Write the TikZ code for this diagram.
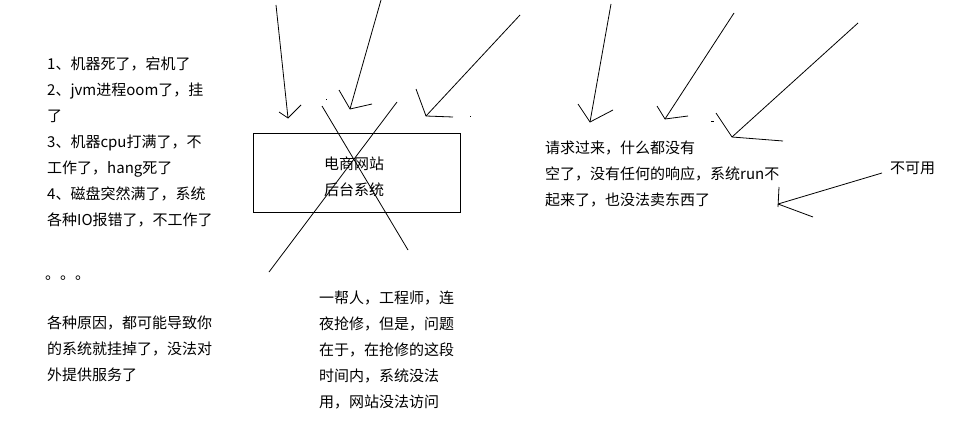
\documentclass[tikz,border=0pt]{standalone}
\usepackage{fontspec}
\setmainfont{Noto Sans CJK SC}
\begin{document}
\begin{tikzpicture}[x=1pt, y=-1pt,
    txt/.style={anchor=base west, inner sep=0pt, align=left,
      font=\fontsize{15}{26}\selectfont},
    pen/.style={line width=0.8pt}]
  \useasboundingbox (0, 0) rectangle (960, 444);
  \node[txt] (causes) at (47, 225) {1、机器死了，宕机了\\2、jvm进程oom了，挂\\了\\3、机器cpu打满了，不\\工作了，hang死了\\4、磁盘突然满了，系统\\各种IO报错了，不工作了};
  \node[txt] (dots) at (45, 279) {。。。};
  \node[txt] (reason) at (47, 380) {各种原因，都可能导致你\\的系统就挂掉了，没法对\\外提供服务了};
  \node[draw, pen, minimum width=207pt, minimum height=79pt, inner sep=0pt] (site) at (356.5, 172.5) {};
  \node[txt, anchor=base, align=center] (sitetxt) at (354, 195) {电商网站\\后台系统};
  \node[txt] (repair) at (319, 407) {一帮人，工程师，连\\夜抢修，但是，问题\\在于，在抢修的这段\\时间内，系统没法\\用，网站没法访问};
  \node[txt] (request) at (545, 205) {请求过来，什么都没有\\空了，没有任何的响应，系统run不\\起来了，也没法卖东西了};
  \node[txt] (down) at (890, 173) {不可用};
  % request arrows
  \coordinate (t1) at (276, 5);   \coordinate (h1) at (288, 118);
  \coordinate (t2) at (381, 0);   \coordinate (h2) at (350, 109);
  \coordinate (t3) at (520, 15);  \coordinate (h3) at (426, 116);
  \coordinate (t4) at (611, 4);   \coordinate (h4) at (590, 122);
  \coordinate (t5) at (734, 13);  \coordinate (h5) at (665, 119);
  \coordinate (t6) at (858, 23);  \coordinate (h6) at (732, 137);
  \coordinate (t7) at (882, 173); \coordinate (h7) at (778, 204);
  \draw[pen] (t1) -- (h1);
  \draw[pen] (279, 112) -- (h1) -- (301, 105);
  \draw[pen] (t2) -- (h2);
  \draw[pen] (339, 90) -- (h2) -- (372, 104);
  \draw[pen] (t3) -- (h3);
  \draw[pen] (416, 89) -- (h3) -- (453, 117);
  \draw[pen] (t4) -- (h4);
  \draw[pen] (578, 104) -- (h4) -- (613, 110);
  \draw[pen] (t5) -- (h5);
  \draw[pen] (657, 106) -- (h5) -- (688, 116);
  \draw[pen] (t6) -- (h6);
  \draw[pen] (716, 113) -- (h6) -- (783, 141);
  \draw[pen] (t7) -- (h7);
  \draw[pen] (779, 187) -- (778, 207);
  \draw[pen] (h7) -- (813, 217);
  % cross over the site
  \coordinate (xa) at (322, 106); \coordinate (xb) at (408, 250);
  \coordinate (xc) at (397, 102); \coordinate (xd) at (269, 272);
  \draw[pen] (xa) -- (xb);
  \draw[pen] (xc) -- (xd);
  \fill (325.5, 98.5) rectangle (326.5, 99.5);
  \fill (469.5, 115.5) rectangle (470.5, 116.5);
  \draw[pen] (711, 121) -- (714, 121);
\end{tikzpicture}
\end{document}
